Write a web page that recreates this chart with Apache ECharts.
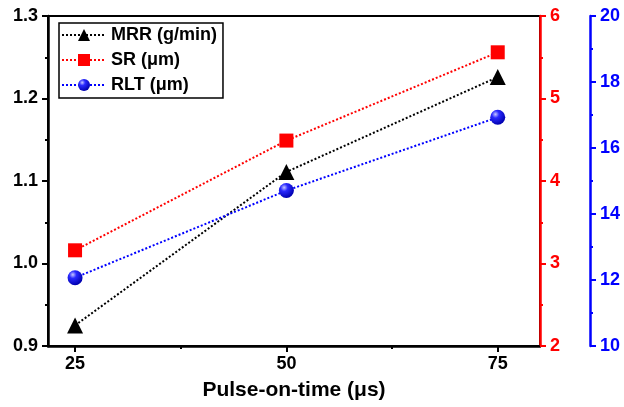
<!DOCTYPE html>
<html>
<head>
<meta charset="utf-8">
<script src="https://cdn.jsdelivr.net/npm/echarts@6/dist/echarts.min.js"></script>
<style>
html, body { margin: 0; padding: 0; background: #fff; }
#chart { width: 624px; height: 407px; }
</style>
</head>
<body>
<div id="chart"></div>
<script>
var pulseOn = [25, 50, 75];
var mrr = [0.925, 1.111, 1.226];
var sr = [3.16, 4.49, 5.56];
var rlt = [12.07, 14.71, 16.93];
var xTicks = [25, 50, 75];
var xMinorTicks = [37.5, 62.5];

function pairs(xs, ys) {
    return xs.map(function (x, i) { return [x, ys[i]]; });
}

var myChart = echarts.init(document.getElementById('chart'));
var labelFont = { fontFamily: 'Liberation Sans, Arial', fontWeight: 'bold', fontSize: 18 };

var option = {
    animation: false,
    grid: {
        left: 48, right: 84, top: 16, bottom: 61,
        show: true, borderColor: '#000', borderWidth: 2
    },
    legend: {
        left: 59, top: 23,
        orient: 'vertical',
        itemWidth: 44, itemHeight: 15, itemGap: 7,
        borderColor: '#000', borderWidth: 1.5,
        padding: [3, 6, 4, 2],
        textStyle: { fontFamily: 'Liberation Sans, Arial', fontWeight: 'bold', fontSize: 18, color: '#000' },
        data: ['MRR (g/min)', 'SR (μm)', 'RLT (μm)']
    },
    xAxis: [
        {
            type: 'value', min: 21.8, max: 80,
            name: 'Pulse-on-time (μs)', nameLocation: 'middle', nameGap: 34,
            nameTextStyle: { fontFamily: 'Liberation Sans, Arial', fontWeight: 'bold', fontSize: 21, color: '#000' },
            axisLine: { lineStyle: { color: '#000', width: 2.5 } },
            axisTick: { customValues: xTicks, length: 6, lineStyle: { color: '#000', width: 2 } },
            axisLabel: Object.assign({ customValues: xTicks, color: '#000', margin: 9 }, labelFont),
            splitLine: { show: false }
        },
        {
            type: 'value', min: 21.8, max: 80, position: 'bottom',
            axisLine: { show: false },
            axisTick: { customValues: xMinorTicks, length: 3, lineStyle: { color: '#000', width: 2 } },
            axisLabel: { show: false },
            splitLine: { show: false }
        }
    ],
    yAxis: [
        {
            type: 'value', min: 0.9, max: 1.3, interval: 0.1,
            axisLine: { show: true, lineStyle: { color: '#000', width: 2.5 } },
            axisTick: { show: true, length: 6, lineStyle: { color: '#000', width: 2 } },
            minorTick: { show: true, splitNumber: 2, length: 3, lineStyle: { color: '#000', width: 2 } },
            axisLabel: Object.assign({ color: '#000', margin: 10, formatter: function (v) { return v.toFixed(1); } }, labelFont),
            splitLine: { show: false }
        },
        {
            type: 'value', min: 2, max: 6, interval: 1, position: 'right',
            axisLine: { show: true, lineStyle: { color: '#ff0000', width: 2.5 } },
            axisTick: { show: true, length: 6, lineStyle: { color: '#ff0000', width: 2 } },
            minorTick: { show: true, splitNumber: 2, length: 3, lineStyle: { color: '#ff0000', width: 2 } },
            axisLabel: Object.assign({ color: '#ff0000', margin: 10 }, labelFont),
            splitLine: { show: false }
        },
        {
            type: 'value', min: 10, max: 20, interval: 2, position: 'right', offset: 50,
            axisLine: { show: true, lineStyle: { color: '#0000ff', width: 2.5 } },
            axisTick: { show: true, length: 6, lineStyle: { color: '#0000ff', width: 2 } },
            minorTick: { show: true, splitNumber: 2, length: 3, lineStyle: { color: '#0000ff', width: 2 } },
            axisLabel: Object.assign({ color: '#0000ff', margin: 10 }, labelFont),
            splitLine: { show: false }
        }
    ],
    series: [
        {
            name: 'MRR (g/min)', type: 'line', yAxisIndex: 0,
            data: pairs(pulseOn, mrr),
            symbol: 'triangle', symbolSize: 16,
            itemStyle: { color: '#000' },
            lineStyle: { color: '#000', type: 'dotted', width: 2 }
        },
        {
            name: 'SR (μm)', type: 'line', yAxisIndex: 1,
            data: pairs(pulseOn, sr),
            symbol: 'rect', symbolSize: 14,
            itemStyle: { color: '#ff0000' },
            lineStyle: { color: '#ff0000', type: 'dotted', width: 2 }
        },
        {
            name: 'RLT (μm)', type: 'line', yAxisIndex: 2,
            data: pairs(pulseOn, rlt),
            symbol: 'circle', symbolSize: 15,
            itemStyle: {
                color: new echarts.graphic.RadialGradient(0.35, 0.3, 0.7, [
                    { offset: 0, color: '#c8c8ff' },
                    { offset: 0.35, color: '#2a2aff' },
                    { offset: 1, color: '#0000b0' }
                ])
            },
            lineStyle: { color: '#0000ff', type: 'dotted', width: 2 }
        }
    ]
};
myChart.setOption(option);
</script>
</body>
</html>
